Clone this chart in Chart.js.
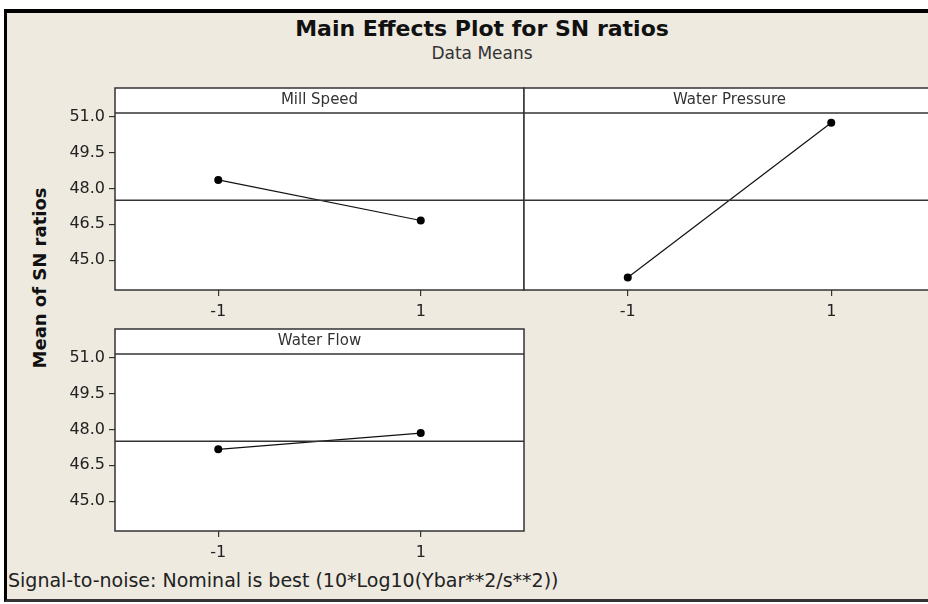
<!DOCTYPE html>
<html>
<head>
<meta charset="utf-8">
<script src="https://cdn.jsdelivr.net/npm/chart.js"></script>
<style>
  html, body { margin: 0; padding: 0; width: 928px; height: 604px; overflow: hidden; background: #fff; }
  #frame { position: absolute; left: 4px; top: 9px; width: 980px; height: 586px;
           background: #eeeae0; border-top: 4px solid #000; border-left: 3px solid #000; border-bottom: 3px solid #333; }
  canvas { position: absolute; }
  .txt { position: absolute; color: #222; font-family: "DejaVu Sans", Verdana, sans-serif; white-space: nowrap; }
  #title { left: 0; width: 964px; top: 16px; text-align: center; font-size: 22px; font-weight: bold; color: #111; }
  #subtitle { left: 0; width: 964px; top: 43px; text-align: center; font-size: 17px; color: #333; }
  #ytitle { left: 39px; top: 278px; font-size: 18px; font-weight: bold; color: #111;
            transform: translate(-50%, -50%) rotate(-90deg); }
  #footer { left: 8px; top: 569px; font-size: 19px; color: #222; }
</style>
</head>
<body>
<div id="frame"></div>
<div class="txt" id="title">Main Effects Plot for SN ratios</div>
<div class="txt" id="subtitle">Data Means</div>
<div class="txt" id="ytitle">Mean of SN ratios</div>
<div class="txt" id="footer">Signal-to-noise: Nominal is best (10*Log10(Ybar**2/s**2))</div>
<canvas id="millSpeed" width="530" height="250" style="left:0px; top:80px;"></canvas>
<canvas id="waterPressure" width="420" height="250" style="left:520px; top:80px;"></canvas>
<canvas id="waterFlow" width="530" height="250" style="left:0px; top:321px;"></canvas>
<script>
// factor levels and tick values
const levels = [-1, 1];
const yTickValues = [45.0, 46.5, 48.0, 49.5, 51.0];

// mean of SN ratios at each level
const millSpeed = [48.36, 46.66];
const waterPressure = [44.27, 50.75];
const waterFlow = [47.17, 47.85];
const grandMean = 47.51;

const xMin = -2.02, xMax = 2.02;
const yMin = 43.75, yMax = 51.16;

const FONT = '"DejaVu Sans", Verdana, sans-serif';
const HEADER_H = 25;

// white plot area + header strip with a frame round both
const panelFrame = {
    id: 'panelFrame',
    beforeDraw(chart) {
        const { ctx, chartArea: a } = chart;
        ctx.save();
        ctx.fillStyle = '#fff';
        ctx.fillRect(a.left, a.top - HEADER_H, a.right - a.left, a.bottom - a.top + HEADER_H);
        ctx.restore();
    },
    afterDraw(chart) {
        const { ctx, chartArea: a } = chart;
        ctx.save();
        ctx.strokeStyle = '#333';
        ctx.lineWidth = 1.5;
        ctx.strokeRect(a.left, a.top - HEADER_H, a.right - a.left, a.bottom - a.top + HEADER_H);
        ctx.beginPath();
        ctx.moveTo(a.left, a.top);
        ctx.lineTo(a.right, a.top);
        ctx.stroke();
        ctx.restore();
    }
};

function makePanel(id, name, values, showY, padding) {
    return new Chart(document.getElementById(id), {
        type: 'line',
        data: {
            datasets: [
                {
                    data: [{ x: xMin, y: grandMean }, { x: xMax, y: grandMean }],
                    borderColor: '#333',
                    borderWidth: 1.5,
                    pointRadius: 0
                },
                {
                    data: levels.map((x, i) => ({ x: x, y: values[i] })),
                    borderColor: '#111',
                    borderWidth: 1.2,
                    pointRadius: 4,
                    pointBackgroundColor: '#000',
                    pointBorderWidth: 0,
                    tension: 0
                }
            ]
        },
        options: {
            responsive: false,
            animation: false,
            events: [],
            layout: { padding: padding },
            plugins: {
                legend: { display: false },
                tooltip: { enabled: false },
                title: {
                    display: true,
                    text: name,
                    fullSize: false,
                    color: '#333',
                    font: { family: FONT, size: 15, weight: 'normal', lineHeight: HEADER_H / 15 },
                    padding: 0
                }
            },
            scales: {
                x: {
                    type: 'linear',
                    min: xMin,
                    max: xMax,
                    afterBuildTicks: s => { s.ticks = levels.map(v => ({ value: v })); },
                    afterFit: s => { s.height = 40; },
                    border: { display: false },
                    grid: { drawOnChartArea: false, drawTicks: true, tickLength: 6, color: '#333', lineWidth: 1.2 },
                    ticks: { color: '#222', font: { family: FONT, size: 16 }, padding: 6, maxRotation: 0, autoSkip: false,
                             callback: v => String(v) }
                },
                y: {
                    display: showY,
                    min: yMin,
                    max: yMax,
                    afterBuildTicks: s => { s.ticks = yTickValues.map(v => ({ value: v })); },
                    afterFit: s => { s.width = showY ? 115 : 0; },
                    border: { display: false },
                    grid: { drawOnChartArea: false, drawTicks: true, tickLength: 6, color: '#333', lineWidth: 1.2 },
                    ticks: { color: '#222', font: { family: FONT, size: 16 }, padding: 4, autoSkip: false,
                             callback: v => v.toFixed(1) }
                }
            }
        },
        plugins: [panelFrame]
    });
}

makePanel('millSpeed', 'Mill Speed', millSpeed, true, { top: 8, left: 0, right: 6, bottom: 0 });
makePanel('waterPressure', 'Water Pressure', waterPressure, false, { top: 8, left: 4, right: 5, bottom: 0 });
makePanel('waterFlow', 'Water Flow', waterFlow, true, { top: 8, left: 0, right: 6, bottom: 0 });
</script>
</body>
</html>
